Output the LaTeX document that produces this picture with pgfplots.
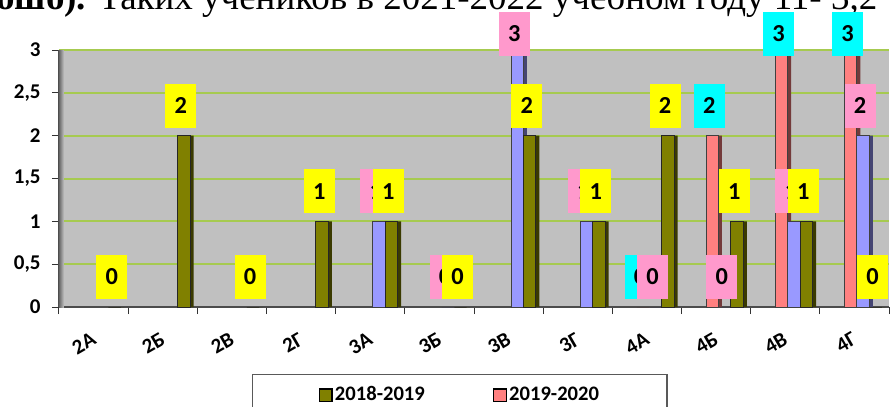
\documentclass[border=0pt]{standalone}
\usepackage{fontspec}
\setmainfont{Carlito}
\newfontfamily\serif{Liberation Serif}
\usepackage{pgfplots}
\pgfplotsset{compat=1.18}
\usepackage{pgfplotstable}

\definecolor{olivebar}{RGB}{128,128,0}
\definecolor{redbar}{RGB}{255,128,128}
\definecolor{bluebar}{RGB}{153,153,255}
\definecolor{lblyellow}{RGB}{255,255,0}
\definecolor{lblpink}{RGB}{255,153,204}
\definecolor{lblcyan}{RGB}{0,255,255}
\definecolor{plotbg}{RGB}{192,192,192}
\definecolor{gridgreen}{RGB}{166,202,80}

% 2018-2019
\pgfplotstableread{
x y
0 0
1 2
2 0
3 1
4 1
5 0
6 2
7 1
8 2
9 1
10 1
11 0
}\olivedata
% 2019-2020
\pgfplotstableread{
x y
8 0
9 2
10 3
11 3
}\reddata
% third series
\pgfplotstableread{
x y
4 1
5 0
6 3
7 1
8 0
9 0
10 1
11 2
}\bluedata

\pgfplotsset{
  sqlegend/.style={legend image code/.code={\draw[##1,draw=black,line width=0.8pt] (0pt,-3.2pt) rectangle (6.4pt,3.2pt);}},
}
\tikzset{
  lbl/.style={fill=#1, text=black, font=\bfseries\fontsize{12.2}{12}\selectfont, minimum width=15.5pt, minimum height=22pt, inner sep=0pt, anchor=center},
}

\begin{document}
\begin{tikzpicture}
\useasboundingbox (0,0) rectangle (446pt,-203pt);
\node[anchor=base west, font=\serif\fontsize{18.5}{20}\selectfont, inner sep=0pt] at (-2pt,-5pt) {\textbf{ошо).} Таких учеников в 2021-2022 учебном году 11- 3,2};
\begin{axis}[
  at={(29.5pt,-153.5pt)}, anchor=south west,
  scale only axis, width=415pt, height=128.5pt,
  xmin=-0.5, xmax=11.5, ymin=0, ymax=3,
  clip=false,
  axis x line=bottom, axis y line=left,
  axis line style={-, draw=black!70, line width=0.6pt},
  axis background/.style={fill=plotbg},
  xtick={0,...,11},
  xticklabels={\textbf{2А},\textbf{2Б},\textbf{2В},\textbf{2Г},\textbf{3А},\textbf{3Б},\textbf{3В},\textbf{3Г},\textbf{4А},\textbf{4Б},\textbf{4В},\textbf{4Г}},
  minor xtick={-0.5,0.5,...,11.5},
  xtick style={/pgfplots/major tick length=0pt},
  minor tick length=3.5pt, major tick length=3.5pt,
  tick align=outside,
  tick style={draw=black!80, line width=0.5pt},
  ytick={0,0.5,...,3},
  ymajorgrids=true,
  major grid style={gridgreen, line width=1pt},
  /pgf/number format/use comma,
  /pgf/number format/assume math mode=true,
  yticklabel style={font=\bfseries\fontsize{10.5}{11}\selectfont, inner sep=0pt, xshift=-5.5pt},
  xticklabel style={font=\bfseries\fontsize{10.5}{11}\selectfont, xshift=-1.5pt, yshift=-8.5pt, rotate=30, anchor=north east, inner sep=0pt},
  legend style={at={(0.2325,-0.2607)}, anchor=north west, draw=black!65, line width=0.6pt,
    inner xsep=33pt, inner ysep=5pt,
    font=\bfseries\fontsize{10.3}{11}\selectfont,
    nodes={inner sep=1pt},
    /tikz/every even column/.append style={column sep=33pt}},
  legend columns=2,
]
\fill[left color=black!60, right color=plotbg] (axis cs:-0.5,0) rectangle (axis cs:-0.43,3);
% legend
\addlegendimage{sqlegend, fill=olivebar}
\addlegendentry{2018-2019}
\addlegendimage{sqlegend, fill=redbar}
\addlegendentry{2019-2020}
% red bars
\addplot[ybar, bar width=0.18, bar shift=-0.005, fill=redbar!45!black, draw=none, forget plot] table[x=x,y=y]{\reddata};
\addplot[ybar, bar width=0.18, bar shift=-0.055, fill=redbar, draw=black!75, line width=0.5pt, forget plot] table[x=x,y=y]{\reddata};
% blue bars
\addplot[ybar, bar width=0.18, bar shift=0.175, fill=bluebar!45!black, draw=none, forget plot] table[x=x,y=y]{\bluedata};
\addplot[ybar, bar width=0.18, bar shift=0.125, fill=bluebar, draw=black!75, line width=0.5pt, forget plot] table[x=x,y=y]{\bluedata};
% olive bars
\addplot[ybar, bar width=0.18, bar shift=0.355, fill=olivebar!45!black, draw=none, forget plot] table[x=x,y=y]{\olivedata};
\addplot[ybar, bar width=0.18, bar shift=0.305, fill=olivebar, draw=black!85, line width=0.5pt, forget plot] table[x=x,y=y]{\olivedata};
% labels
\addplot[only marks, mark=none, forget plot, point meta=explicit symbolic, nodes near coords,
  every node near coord/.style={lbl=lblcyan}]
  table[x expr=\thisrow{x}-0.098, y expr={\thisrow{y}>2.5 ? \thisrow{y}+0.19 : \thisrow{y}+0.35}, meta=y]{\reddata};
\addplot[only marks, mark=none, forget plot, point meta=explicit symbolic, nodes near coords,
  every node near coord/.style={lbl=lblpink}]
  table[x expr=\thisrow{x}+0.082, y expr={\thisrow{y}>2.5 ? \thisrow{y}+0.19 : \thisrow{y}+0.35}, meta=y]{\bluedata};
\addplot[only marks, mark=none, forget plot, point meta=explicit symbolic, nodes near coords,
  every node near coord/.style={lbl=lblyellow}]
  table[x expr=\thisrow{x}+0.262, y expr={\thisrow{y}>2.5 ? \thisrow{y}+0.19 : \thisrow{y}+0.35}, meta=y]{\olivedata};
\end{axis}
\end{tikzpicture}
\end{document}
